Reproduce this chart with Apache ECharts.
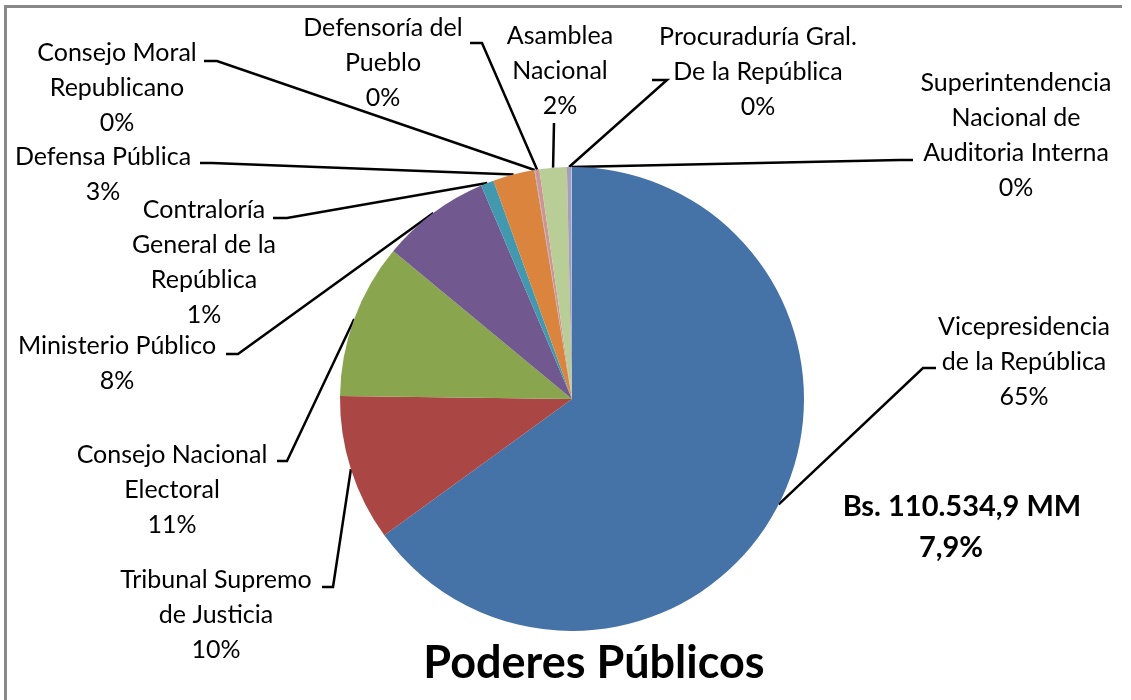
<!DOCTYPE html>
<html>
<head>
<meta charset="utf-8">
<script src="https://cdn.jsdelivr.net/npm/echarts@6/dist/echarts.min.js"></script>
<style>
  html, body { margin: 0; padding: 0; background: #fff; }
  #chart { width: 1131px; height: 700px; }
</style>
</head>
<body>
<div id="chart"></div>
<script>
// organismos, en sentido horario desde las 12
var organismos = [
    'Vicepresidencia\nde la República',
    'Tribunal Supremo\nde Justicia',
    'Consejo Nacional\nElectoral',
    'Ministerio Público',
    'Contraloría\nGeneral de la\nRepública',
    'Defensa Pública',
    'Consejo Moral\nRepublicano',
    'Defensoría del\nPueblo',
    'Asamblea\nNacional',
    'Procuraduría Gral.\nDe la República',
    'Superintendencia\nNacional de\nAuditoria Interna'
];
// participación en el total (%)
var participacion = [65.0, 10.2, 10.8, 7.6, 0.9, 2.9, 0.05, 0.3, 1.9, 0.3, 0.05];

var titulo = 'Poderes Públicos';
var montoTotal = 'Bs. 110.534,9 MM';
var pctTotal = '7,9%';

// paleta tipo Excel 2007
var colores = ['#4572A7', '#AA4643', '#89A54E', '#71588F', '#4198AF', '#DB843D',
               '#93A9CF', '#D19392', '#B9CD96', '#A99BBD', '#91C3D5'];

// centro de cada bloque de etiqueta
var posEtiqueta = [
    [1024, 362], [216, 615], [172, 490], [117, 363], [204, 262], [103, 174],
    [117, 88], [383, 63], [560, 71], [758, 72], [1016, 135]
];
// quiebres de la línea guía (después del borde del sector)
var guia = [
    [[923, 368], [936, 368]],
    [[333, 587], [322, 587]],
    [[287, 461], [277, 461]],
    [[238, 354], [226, 354]],
    [[287, 218], [273, 218]],
    [[212, 163], [200, 163]],
    [[217, 61], [204, 61]],
    [[482, 43], [470, 43]],
    [[554, 123]],
    [[667, 80], [652, 80]],
    [[900, 160], [913, 160]]
];

var FONT = 'Lato, "Open Sans", sans-serif';

var myChart = echarts.init(document.getElementById('chart'));

var option = {
    animation: false,
    backgroundColor: '#fff',
    color: colores,
    graphic: [
        {
            type: 'polyline',
            shape: { points: [[5.5, 720], [5.5, 6.5], [1122, 6.5]] },
            style: { stroke: '#898989', lineWidth: 3, fill: null }
        },
        {
            type: 'text', x: 594, y: 663,
            style: {
                text: titulo, fill: '#000',
                font: 'bold 45px ' + FONT,
                align: 'center', verticalAlign: 'middle',
                textAlign: 'center', textVerticalAlign: 'middle'
            }
        },
        {
            type: 'text', x: 962, y: 507,
            style: {
                text: montoTotal, fill: '#000',
                font: 'bold 29px ' + FONT,
                align: 'center', verticalAlign: 'middle',
                textAlign: 'center', textVerticalAlign: 'middle'
            }
        },
        {
            type: 'text', x: 951, y: 548,
            style: {
                text: pctTotal, fill: '#000',
                font: 'bold 29px ' + FONT,
                align: 'center', verticalAlign: 'middle',
                textAlign: 'center', textVerticalAlign: 'middle'
            }
        }
    ],
    series: [
        {
            type: 'pie',
            center: [572, 399],
            radius: 232,
            startAngle: 90,
            clockwise: true,
            avoidLabelOverlap: false,
            itemStyle: { borderWidth: 0 },
            label: {
                show: true,
                position: 'outside',
                color: '#000',
                fontFamily: FONT,
                fontSize: 25,
                lineHeight: 35,
                align: 'center',
                formatter: function (p) {
                    return p.name + '\n' + Math.round(p.percent) + '%';
                }
            },
            labelLine: {
                show: true,
                length: 10,
                length2: 10,
                lineStyle: { color: '#000', width: 2.5 }
            },
            labelLayout: function (p) {
                var i = p.dataIndex;
                var pts = [p.labelLinePoints[0]].concat(guia[i]);
                return {
                    x: posEtiqueta[i][0],
                    y: posEtiqueta[i][1],
                    align: 'center',
                    verticalAlign: 'middle',
                    labelLinePoints: pts
                };
            },
            emphasis: { disabled: true },
            data: organismos.map(function (n, i) {
                return { name: n, value: participacion[i] };
            })
        }
    ]
};

myChart.setOption(option);
</script>
</body>
</html>
